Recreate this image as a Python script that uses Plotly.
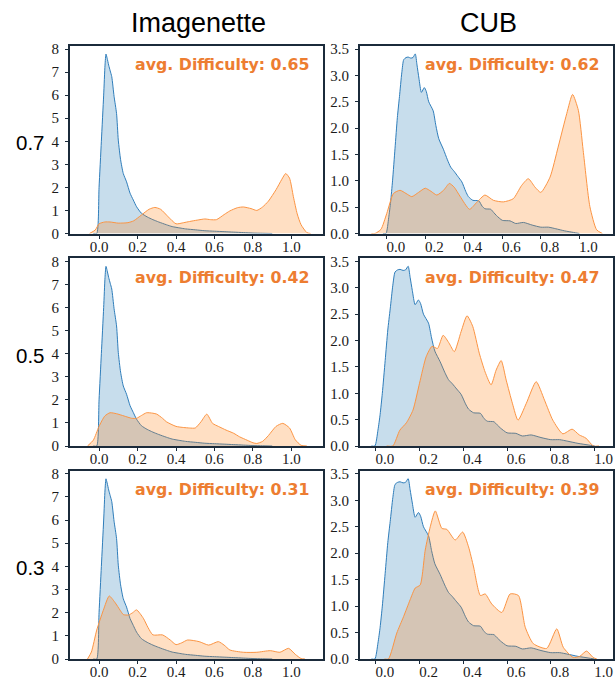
import plotly.graph_objects as go

# ---------------- data ----------------
COLUMN_TITLES = ["Imagenette", "CUB"]
ROW_LABELS = ["0.7", "0.5", "0.3"]
AVG_DIFFICULTY = [["0.65", "0.62"], ["0.42", "0.47"], ["0.31", "0.39"]]

# Blue density (identical in every row of a column)
IMG_BLUE_X = [-0.03, -0.012, 0.0, 0.012, 0.024, 0.031, 0.036, 0.042, 0.05, 0.058, 0.066, 0.078,
              0.091, 0.1, 0.112, 0.126, 0.143, 0.161, 0.178, 0.195, 0.22, 0.25, 0.28, 0.31,
              0.35, 0.38, 0.42, 0.45, 0.5, 0.55, 0.6, 0.65, 0.7, 0.75, 0.8, 0.85, 0.9]
IMG_BLUE_Y = [0, 0, 2.0, 4.0, 6.0, 7.3, 7.78, 7.6, 7.3, 7.05, 6.8, 5.95,
              5.2, 4.05, 3.2, 2.6, 2.24, 1.75, 1.45, 1.16, 0.88, 0.72, 0.6, 0.5,
              0.38, 0.3, 0.24, 0.2, 0.16, 0.12, 0.1, 0.08, 0.06, 0.04, 0.02, 0.01, 0]

CUB_BLUE_X = [-0.02, -0.004, 0.01, 0.02, 0.03, 0.043, 0.055, 0.066, 0.078, 0.088, 0.1, 0.111,
              0.125, 0.136, 0.148, 0.157, 0.167, 0.18, 0.195, 0.205, 0.218, 0.241, 0.255, 0.27,
              0.294, 0.315, 0.332, 0.35, 0.37, 0.39, 0.41, 0.424, 0.447, 0.478, 0.495, 0.51,
              0.54, 0.555, 0.57, 0.6, 0.64, 0.67, 0.71, 0.755, 0.8, 0.84, 0.878, 0.924, 0.97, 1.0]
CUB_BLUE_Y = [0, 0, 0.3, 0.6, 1.0, 1.62, 2.2, 2.6, 3.05, 3.3, 3.34, 3.35,
              3.33, 3.34, 3.41, 3.2, 2.95, 2.68, 2.77, 2.7, 2.5, 2.33, 2.05, 1.8,
              1.6, 1.4, 1.26, 1.18, 1.08, 0.98, 0.8, 0.7, 0.63, 0.62, 0.52, 0.47,
              0.46, 0.4, 0.34, 0.25, 0.24, 0.19, 0.21, 0.16, 0.12, 0.12, 0.09, 0.05, 0.02, 0]

# Orange densities, one per row
IMG_ORANGE_X = [
    [-0.05, -0.02, 0.0, 0.03, 0.057, 0.1, 0.15, 0.18, 0.22, 0.26, 0.29, 0.32, 0.36, 0.4,
     0.44, 0.47, 0.51, 0.55, 0.58, 0.61, 0.65, 0.68, 0.72, 0.75, 0.79, 0.82, 0.85, 0.88,
     0.92, 0.95, 0.97, 0.99, 1.01, 1.03, 1.05, 1.08, 1.1],
    [-0.06, -0.03, 0.0, 0.03, 0.057, 0.09, 0.13, 0.17, 0.195, 0.22, 0.247, 0.28, 0.3, 0.33,
     0.35, 0.4, 0.44, 0.47, 0.5, 0.53, 0.56, 0.59, 0.62, 0.66, 0.7, 0.73, 0.77, 0.8, 0.82,
     0.85, 0.88, 0.92, 0.955, 0.99, 1.02, 1.05, 1.08],
    [-0.06, -0.04, -0.012, 0.022, 0.053, 0.082, 0.11, 0.126, 0.153, 0.175, 0.195, 0.23,
     0.255, 0.28, 0.33, 0.37, 0.4, 0.43, 0.46, 0.52, 0.57, 0.62, 0.65, 0.68, 0.75, 0.82,
     0.89, 0.94, 0.985, 1.02, 1.05, 1.07],
]
IMG_ORANGE_Y = [
    [0, 0.15, 0.42, 0.5, 0.5, 0.45, 0.47, 0.55, 0.8, 1.05, 1.13, 1.05, 0.72, 0.42,
     0.47, 0.52, 0.58, 0.63, 0.6, 0.6, 0.82, 0.98, 1.12, 1.15, 1.08, 1.0, 1.15, 1.4,
     1.9, 2.35, 2.6, 2.4, 1.6, 0.85, 0.38, 0.04, 0],
    [0, 0.25, 0.85, 1.3, 1.44, 1.4, 1.3, 1.2, 1.2, 1.32, 1.44, 1.42, 1.38, 1.2,
     1.05, 0.85, 0.8, 0.78, 0.78, 1.05, 1.38, 0.98, 0.85, 0.69, 0.55, 0.4, 0.25, 0.14, 0.11,
     0.2, 0.45, 0.85, 0.98, 0.78, 0.27, 0.03, 0],
    [0, 0.3, 1.25, 2.1, 2.72, 2.45, 2.1, 1.92, 1.9, 2.0, 2.12, 1.76,
     1.35, 1.04, 1.04, 0.82, 0.62, 0.7, 0.82, 0.75, 0.6, 0.75, 0.6, 0.39, 0.29, 0.29,
     0.36, 0.29, 0.46, 0.2, 0.02, 0],
]

CUB_ORANGE_X = [
    [-0.08, -0.061, -0.03, 0.0, 0.035, 0.069, 0.1, 0.13, 0.165, 0.2, 0.23, 0.26, 0.295,
     0.325, 0.35, 0.38, 0.43, 0.467, 0.51, 0.554, 0.605, 0.657, 0.7, 0.735, 0.77, 0.8,
     0.848, 0.89, 0.935, 0.965, 0.995, 1.02, 1.055, 1.09, 1.12],
    [0.05, 0.078, 0.11, 0.14, 0.17, 0.2, 0.23, 0.257, 0.282, 0.308, 0.335, 0.359, 0.39,
     0.417, 0.443, 0.473, 0.5, 0.527, 0.55, 0.573, 0.596, 0.625, 0.65, 0.688, 0.733, 0.771,
     0.809, 0.855, 0.897, 0.93, 0.96, 0.994, 1.02],
    [0.04, 0.058, 0.096, 0.127, 0.157, 0.18, 0.203, 0.226, 0.249, 0.272, 0.302, 0.325,
     0.363, 0.397, 0.424, 0.447, 0.478, 0.5, 0.53, 0.576, 0.614, 0.652, 0.683, 0.72, 0.781,
     0.827, 0.857, 0.902, 0.932, 0.963, 0.993, 1.01],
]
CUB_ORANGE_Y = [
    [0, 0.0, 0.08, 0.38, 0.76, 0.82, 0.76, 0.7, 0.78, 0.86, 0.8, 0.73, 0.82,
     0.95, 0.88, 0.71, 0.46, 0.59, 0.73, 0.63, 0.6, 0.66, 0.91, 1.04, 0.88, 0.78,
     1.07, 1.64, 2.28, 2.64, 2.34, 1.58, 0.51, 0.07, 0],
    [0, 0.0, 0.3, 0.44, 0.68, 1.19, 1.69, 1.89, 1.85, 2.1, 1.95, 1.79, 2.17,
     2.47, 2.27, 1.76, 1.4, 1.16, 1.44, 1.62, 1.25, 0.8, 0.49, 0.81, 1.22, 0.87,
     0.49, 0.23, 0.32, 0.21, 0.15, 0.0, 0],
    [0, 0.0, 0.49, 0.8, 1.12, 1.34, 1.4, 2.06, 2.5, 2.8, 2.47, 2.45,
     2.25, 2.4, 2.12, 1.74, 1.2, 1.23, 1.04, 0.88, 1.23, 1.2, 0.6, 0.29, 0.2,
     0.57, 0.22, 0.03, 0.05, 0.15, 0.03, 0],
]

X_TICKS = [0.0, 0.2, 0.4, 0.6, 0.8, 1.0]
Y_TICKS = [[0, 1, 2, 3, 4, 5, 6, 7, 8], [0.0, 0.5, 1.0, 1.5, 2.0, 2.5, 3.0, 3.5]]
Y_RANGES = [[0, 8.13], [0, 3.56]]
X_RANGES = [[[-0.151, 1.164], [-0.139, 1.175]],
            [[-0.151, 1.164], [-0.072, 1.084]],
            [[-0.151, 1.164], [-0.072, 1.084]]]

# ---------------- styling / layout ----------------
W, H = 616, 681
COL_PX = [(70, 323), (360, 613)]
ROW_PX = [(46, 233.5), (258.3, 446), (470.7, 659)]
FRAME = "#1b2b3b"
BLUE_LINE = "#2f7dba"
BLUE_FILL = "rgba(31,119,180,0.25)"
ORANGE_LINE = "#fb9443"
ORANGE_FILL = "rgba(255,127,14,0.25)"
ANNOT_COLOR = "#ED7D31"
TICK_FONT = dict(family="Liberation Serif", size=15, color="#1a1a1a")


def px_x(v):
    return v / W


def px_y(v):
    return 1 - v / H


fig = go.Figure()
layout = dict()
annotations = []

for r in range(3):
    for c in range(2):
        n = r * 2 + c + 1
        xs = "" if n == 1 else str(n)
        xref, yref = "x" + xs, "y" + xs
        if c == 0:
            bx, by = IMG_BLUE_X, IMG_BLUE_Y
            ox, oy = IMG_ORANGE_X[r], IMG_ORANGE_Y[r]
        else:
            bx, by = CUB_BLUE_X, CUB_BLUE_Y
            ox, oy = CUB_ORANGE_X[r], CUB_ORANGE_Y[r]
        fig.add_trace(go.Scatter(x=bx, y=by, mode="lines", fill="tozeroy",
                                 fillcolor=BLUE_FILL,
                                 line=dict(color=BLUE_LINE, width=1, shape="spline", smoothing=0.6),
                                 xaxis=xref, yaxis=yref, showlegend=False, hoverinfo="skip"))
        fig.add_trace(go.Scatter(x=ox, y=oy, mode="lines", fill="tozeroy",
                                 fillcolor=ORANGE_FILL,
                                 line=dict(color=ORANGE_LINE, width=1, shape="spline", smoothing=0.6),
                                 xaxis=xref, yaxis=yref, showlegend=False, hoverinfo="skip"))

        x0, x1 = COL_PX[c]
        y0, y1 = ROW_PX[r]
        common = dict(showline=True, mirror=True, linewidth=2, linecolor=FRAME,
                      showgrid=False, zeroline=False, ticks="outside", ticklen=3,
                      tickcolor=FRAME, tickwidth=1, tickfont=TICK_FONT, automargin=False,
                      ticklabeloverflow="allow")
        layout["xaxis" + xs] = dict(domain=[px_x(x0), px_x(x1)], anchor=yref, range=X_RANGES[r][c],
                                    tickvals=X_TICKS, tickformat=".1f",
                                    ticklabelshift=(9 if c == 1 else 0),
                                    ticklabelstandoff=-5, **common)
        layout["yaxis" + xs] = dict(domain=[px_y(y1), px_y(y0)], anchor=xref, range=Y_RANGES[c],
                                    tickvals=Y_TICKS[c], tickformat=("d" if c == 0 else ".1f"),
                                    ticklabelstandoff=3, **common)
        annotations.append(dict(xref="paper", yref="paper",
                                x=px_x(x1 - 11), y=px_y(y0 + 19),
                                xanchor="right", yanchor="middle", showarrow=False,
                                text="<b>avg. Difficulty: %s</b>" % AVG_DIFFICULTY[r][c],
                                font=dict(family="DejaVu Sans", size=15.8, color=ANNOT_COLOR)))

for c, t in enumerate(COLUMN_TITLES):
    cx = [198, 488][c]
    annotations.append(dict(xref="paper", yref="paper", x=px_x(cx), y=px_y(23),
                            xanchor="center", yanchor="middle", showarrow=False, text=t,
                            font=dict(family="Liberation Sans", size=27, color="#000000")))

for r, t in enumerate(ROW_LABELS):
    cy = [143, 356, 567][r]
    annotations.append(dict(xref="paper", yref="paper", x=px_x(30), y=px_y(cy),
                            xanchor="center", yanchor="middle", showarrow=False, text=t,
                            font=dict(family="Liberation Sans", size=20.5, color="#000000")))

fig.update_layout(width=W, height=H, margin=dict(l=0, r=0, t=0, b=0, autoexpand=False),
                  paper_bgcolor="white", plot_bgcolor="white",
                  annotations=annotations, **layout)

# remove the page's default body margin so the figure fills the window exactly
fig.write_html("out.html",
               config={"displayModeBar": False},
               post_script="document.body.style.margin='0';document.body.style.overflow='hidden';")
